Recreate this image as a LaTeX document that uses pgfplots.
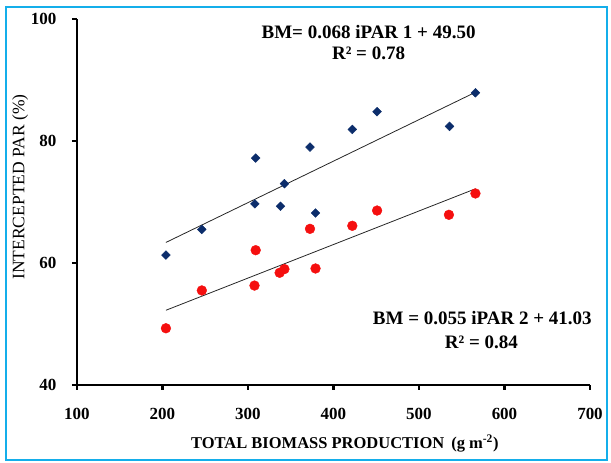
\documentclass[border=0pt]{standalone}
\usepackage{pgfplots}
\pgfplotsset{compat=1.18}
\usepackage{fontspec}
\setmainfont{Liberation Serif}
\definecolor{frameblue}{HTML}{14AEEA}
\definecolor{navy}{HTML}{0C2D6B}
\definecolor{redpt}{HTML}{F50F0F}
\newcommand{\tl}[1]{\hbox{\fontsize{17}{19}\selectfont\bfseries #1}}
\begin{document}
\begin{tikzpicture}
\useasboundingbox (-77pt,-78pt) rectangle (534pt,385pt);
\draw[frameblue, line width=2.4pt] (-71pt,-75pt) rectangle (530pt,378pt);
\begin{axis}[
  anchor=south west, at={(0,0)},
  scale only axis, width=513pt, height=366pt,
  xmin=100, xmax=700, ymin=40, ymax=100,
  axis x line*=bottom, axis y line*=left,
  axis line style={line width=2.8pt, -},
  xtick={100,200,...,700}, ytick={40,60,80,100},
  xticklabels={\tl{100},\tl{200},\tl{300},\tl{400},\tl{500},\tl{600},\tl{700}},
  yticklabels={\tl{40},\tl{60},\tl{80},\tl{100}},
  tick style={line width=2.8pt, black},
  major tick length=5pt, tick align=outside,
  xticklabel style={anchor=center, yshift=-24pt},
  yticklabel style={anchor=east, xshift=-12pt},
  xlabel={TOTAL BIOMASS PRODUCTION \,(g m\textsuperscript{-2})},
  xlabel style={font=\fontsize{16.5}{18}\selectfont\bfseries, at={(axis description cs:0.522,-0.159)}, anchor=center},
  ylabel={INTERCEPTED PAR (\%)},
  ylabel style={font=\fontsize{17.5}{19}\selectfont, at={(axis description cs:-0.111,0.541)}, anchor=center},
  clip=false,
]
\addplot[only marks, mark=square*, mark size=3.1pt, color=navy, mark options={rotate=45, fill=navy, draw=navy}] coordinates {
(204,61.3) (246,65.5) (309,77.2) (308,69.7) (338,69.3) (342.6,73.0)
(372.5,79.0) (379,68.2) (422,81.9) (451,84.8) (535.7,82.4) (566,87.9)};
\addplot[only marks, mark=*, mark size=4.9pt, color=redpt, mark options={fill=redpt, draw=redpt}] coordinates {
(204,49.3) (246,55.5) (309,62.1) (307.6,56.3) (337,58.4) (342.6,59.0)
(372.5,65.6) (379,59.1) (422,66.1) (451,68.6) (535,67.9) (566,71.4)};
\addplot[black!85, line width=0.8pt] coordinates {(204,63.37) (566,87.99)};
\addplot[black!85, line width=0.8pt] coordinates {(204,52.25) (566,72.16)};
\node[font=\fontsize{19}{21}\selectfont\bfseries] at (axis cs:441,97.9) {BM= 0.068 iPAR 1 + 49.50};
\node[font=\fontsize{19}{21}\selectfont\bfseries] at (axis cs:441,94.4) {R² = 0.78};
\node[font=\fontsize{19}{21}\selectfont\bfseries] at (axis cs:574,51.0) {BM = 0.055 iPAR 2 + 41.03};
\node[font=\fontsize{19}{21}\selectfont\bfseries] at (axis cs:573,47.0) {R² = 0.84};
\end{axis}
\end{tikzpicture}
\end{document}
